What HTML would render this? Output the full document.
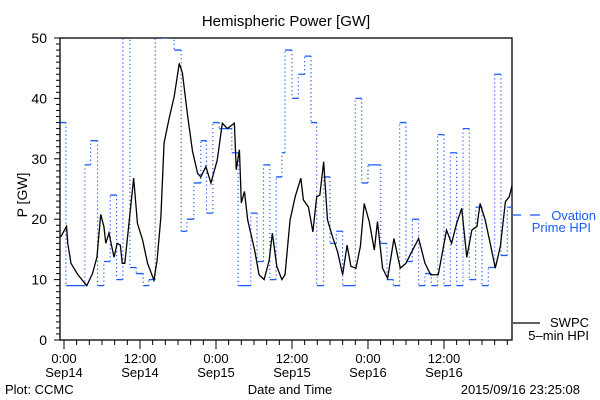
<!DOCTYPE html>
<html><head><meta charset="utf-8"><style>
html,body{margin:0;padding:0;background:#fff;}
svg{display:block;font-family:"Liberation Sans",sans-serif;}
</style></head><body>
<svg id="c" width="600" height="400" xmlns="http://www.w3.org/2000/svg">
<text x="286" y="26" font-size="15" text-anchor="middle">Hemispheric Power [GW]</text>
<text x="0" y="0" font-size="14" text-anchor="middle" transform="translate(27,195) rotate(-90)">P [GW]</text>
<text x="290" y="394" font-size="13" text-anchor="middle">Date and Time</text>
<text x="5" y="394" font-size="13">Plot: CCMC</text>
<text x="580" y="394" font-size="13" text-anchor="end">2015/09/16 23:25:08</text>
<g id="axes"></g>
<g id="series"></g>
<g>
<line x1="513" y1="215" x2="521" y2="215" stroke="#1a5cff" stroke-width="1.3"/>
<line x1="530" y1="215" x2="540" y2="215" stroke="#1a5cff" stroke-width="1.3"/>
<text x="596" y="220" font-size="13" fill="#1a5cff" text-anchor="end">Ovation</text>
<text x="591" y="232" font-size="13" fill="#1a5cff" text-anchor="end">Prime HPI</text>
<line x1="513" y1="323" x2="540" y2="323" stroke="#000" stroke-width="1.3"/>
<text x="589" y="327" font-size="13" text-anchor="end">SWPC</text>
<text x="589" y="340" font-size="13" text-anchor="end">5–min HPI</text>
</g>
</svg>
<script>
const blueStart=[-0.6,0.3,3.3,4.2,5.3,6.3,7.3,8.3,9.3,10.4,11.4,12.5,13.4,14.4,15.4,16.5,17.4,18.5,19.4,20.5,21.6,22.5,23.5,24.5,26.5,27.5,29.5,30.5,31.5,32.5,33.5,34.4,34.9,36,37,38,39,39.9,41,42,43,44,46,47,48,50,51,52,53,54,55,56,57,58,59,60,61,62,63,64,65,66,67,68,69,70,70.9];
const blueVal=[36,9,29,33,9,13,24,10,55,12,11,9,10,55,50,55,48,18,20,26,33,21,36,35,31,9,21,13,29,10,27,31,48,40,44,47,36,9,27,16,18,9,40,26,29,16,10,9,36,13,20,9,11,9,34,9,31,9,35,10,22,9,12,44,14,22,50];
const lineHours=[-0.5,0.4,0.6,1.1,2.2,3.6,4.5,5.2,5.8,6.3,6.6,7.1,7.9,8.4,8.9,9.2,9.6,10.1,11,11.6,12.4,13.2,14.2,14.7,15.3,15.8,16.6,17.4,18.2,18.7,19.5,20.3,21.1,21.6,22.4,23.2,24.2,25,25.8,26.9,27.2,27.7,28,28.5,29,30.1,30.8,31.6,32.4,32.9,33.6,34.4,34.9,35.7,36.5,37.4,37.8,38.6,39.3,39.9,40.4,41,41.6,42.4,43.2,44,44.7,45.3,46.1,46.8,47.4,48.2,49,49.5,50.3,51.1,52.1,53.1,54,54.9,56,57,57.9,59.1,60.4,61.2,62,62.8,63.6,64.4,65.2,65.7,66.5,67.3,68.1,68.9,69.7,70.3,70.8];
const lineVal=[17.1,18.8,16,12.7,10.8,9,11,13.7,20.8,18.8,16,17.7,13.7,16,15.7,12.7,12.7,17.7,26.8,19.3,16.6,12.7,9.9,13.2,20.4,32.6,36.7,40.3,45.8,44.2,37.3,31.2,27.6,27,28.7,26,29.8,35.9,35,35.9,28.2,31.5,22.7,24.6,19.9,14.9,10.8,10,13.2,17.7,12.2,10,10.8,19.9,23.7,26.8,23.2,22,17.9,23.7,24,29.5,19.9,17.1,14.6,10.8,15.7,12.2,11.9,15.5,22.6,19.6,14.9,19.6,11.9,10.2,16.8,11.9,12.7,14.6,16.8,12.7,10.8,10.8,18.2,16,19.3,21.8,13.7,18.2,18.8,22.6,19.9,16,11.9,15.5,22.9,23.7,25.8];
const yTicks=[0,10,20,30,40,50];
const xMajorHours=[0,12,24,36,48,60];
const xTimeLabels=["0:00","12:00","0:00","12:00","0:00","12:00"];
const xDateLabels=["Sep14","Sep14","Sep15","Sep15","Sep16","Sep16"];

const L=60,R=512,T=38,B=340,hMin=-0.63,hMax=70.74,vMax=50;
const xs=h=>L+(h-hMin)/(hMax-hMin)*(R-L);
const ys=v=>B-v/vMax*(B-T);
const NS="http://www.w3.org/2000/svg";
function mk(tag,attrs,parent){const e=document.createElementNS(NS,tag);for(const k in attrs)e.setAttribute(k,attrs[k]);parent.appendChild(e);return e;}
const ax=document.getElementById('axes'),se=document.getElementById('series');

// clip
const defs=mk('defs',{},se);const cp=mk('clipPath',{id:'clip'},defs);mk('rect',{x:L,y:T,width:R-L,height:B-T},cp);

// blue steps
let d='';
for(let i=0;i<blueStart.length;i++){
  const x0=xs(blueStart[i]),x1=xs(i+1<blueStart.length?blueStart[i+1]:hMax),y=ys(blueVal[i]);
  d+='M'+x0+' '+y+'H'+x1;
}
const bh=mk('path',{d:d,stroke:'#1a5cff','stroke-width':1.3,fill:'none','clip-path':'url(#clip)'},se);


let dv='';
for(let i=1;i<blueStart.length;i++){
  dv+='M'+xs(blueStart[i])+' '+ys(blueVal[i-1])+'V'+ys(blueVal[i]);
}
const bv=mk('path',{d:dv,stroke:'#1a5cff','stroke-width':1.2,fill:'none','stroke-dasharray':'1.2 2.8','clip-path':'url(#clip)'},se);



// black line
const pts=lineHours.map((h,i)=>xs(h)+','+ys(lineVal[i])).join(' ');
const pl=mk('polyline',{points:pts,stroke:'#000','stroke-width':1.3,fill:'none','clip-path':'url(#clip)'},se);



// frame
const fr=mk('rect',{x:L,y:T,width:R-L,height:B-T,fill:'none',stroke:'#000','stroke-width':1.3},ax);



// y ticks
for(let v=0;v<=vMax;v++){
  const major=v%10===0;
  mk('line',{x1:L-(major?6:4),x2:L,y1:ys(v),y2:ys(v),stroke:'#000','stroke-width':1},ax);
}
yTicks.forEach(v=>{
  const t=mk('text',{x:L-13,y:ys(v)+5,'font-size':14,'text-anchor':'end'},ax);
  t.textContent=v;
  
  
});
// x ticks
for(let h=0;h<=70;h+=2){
  const major=h%12===0;
  mk('line',{x1:xs(h),x2:xs(h),y1:B,y2:B+(major?9:5),stroke:'#000','stroke-width':1},ax);
}
xMajorHours.forEach((h,i)=>{
  const t=mk('text',{x:xs(h),y:363,'font-size':13,'text-anchor':'middle'},ax);
  t.textContent=xTimeLabels[i];
  
  
  const t2=mk('text',{x:xs(h),y:377,'font-size':13,'text-anchor':'middle'},ax);
  t2.textContent=xDateLabels[i];
  
  
});
</script>
</body></html>
